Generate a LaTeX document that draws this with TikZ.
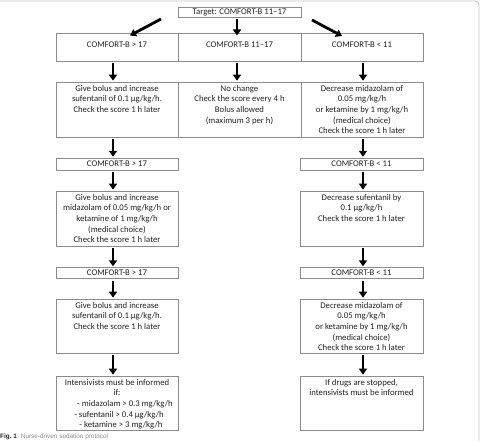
\documentclass[tikz,border=0pt]{standalone}
\usepackage{fontspec}
\setmainfont{Carlito}
\newfontfamily\capfont{Liberation Sans}
\usetikzlibrary{arrows.meta}
\definecolor{boxline}{HTML}{8C8C8C}
\definecolor{framegray}{HTML}{C4C4C4}
\definecolor{txt}{HTML}{222222}
\definecolor{capgray}{HTML}{8A8A8A}
\begin{document}
\begin{tikzpicture}[x=1pt,y=-1pt,
  box/.style={draw=boxline,line width=0.7pt,inner sep=0pt,text=txt,
    font=\fontsize{8.7}{10.6}\selectfont},
  lbl/.style={inner sep=0pt,align=center,text=txt,
    font=\fontsize{8.7}{10.6}\selectfont},
  arr/.style={line width=2.8pt,-{Triangle[width=8pt,length=6pt]},
    shorten <=2pt,shorten >=1pt}]
\useasboundingbox (0,0) rectangle (481,441);

% page frame
\draw[framegray,line width=0.9pt,rounded corners=4pt] (0,1) -- (479,1) -- (479,441);

% target
\node[box,minimum width=123pt,minimum height=10pt] (T) at (239.5,12) {Target: COMFORT-B 11--17};

% first row: score ranges
\node[box,minimum width=122pt,minimum height=28pt] (L1) at (117,47) {};
\node[box,minimum width=123pt,minimum height=28pt] (M1) at (239.5,47) {};
\node[box,minimum width=122pt,minimum height=28pt] (R1) at (362,47) {};
\node[lbl] (L1t) at (117,45) {COMFORT-B > 17};
\node[lbl] (M1t) at (239.5,45) {COMFORT-B 11--17};
\node[lbl] (R1t) at (362,45) {COMFORT-B < 11};

% second row: first actions
\node[box,minimum width=122pt,minimum height=55pt] (L2) at (117,109.5) {};
\node[box,minimum width=123pt,minimum height=55pt] (M2) at (239.5,109.5) {};
\node[box,minimum width=122pt,minimum height=55pt] (R2) at (362,109.5) {};
\node[lbl,anchor=north] (L2t) at ([yshift=-3.5pt]L2.north) {Give bolus and increase\\sufentanil of 0.1 µg/kg/h.\\Check the score 1 h later};
\node[lbl,anchor=north] (M2t) at ([yshift=-3.5pt]M2.north) {No change\\Check the score every 4 h\\Bolus allowed\\(maximum 3 per h)};
\node[lbl,anchor=north] (R2t) at ([yshift=-3.5pt]R2.north) {Decrease midazolam of\\0.05 mg/kg/h\\or ketamine by 1 mg/kg/h\\(medical choice)\\Check the score 1 h later};

% third row: rechecked scores
\node[box,minimum width=122pt,minimum height=11.7pt] (L3) at (117,164) {COMFORT-B > 17};
\node[box,minimum width=123pt,minimum height=11.7pt] (R3) at (361.5,164) {COMFORT-B < 11};

% fourth row
\node[box,minimum width=122pt,minimum height=55pt] (L4) at (117,218.5) {};
\node[box,minimum width=123pt,minimum height=55pt] (R4) at (361.5,218.5) {};
\node[lbl,anchor=north] (L4t) at ([yshift=-3.5pt]L4.north) {Give bolus and increase\\midazolam of 0.05 mg/kg/h or\\ketamine of 1 mg/kg/h\\(medical choice)\\Check the score 1 h later};
\node[lbl,anchor=north] (R4t) at ([yshift=-3.5pt]R4.north) {Decrease sufentanil by\\0.1 µg/kg/h\\Check the score 1 h later};

% fifth row
\node[box,minimum width=122pt,minimum height=10.6pt] (L5) at (117,273) {COMFORT-B > 17};
\node[box,minimum width=123pt,minimum height=10.6pt] (R5) at (361.5,273) {COMFORT-B < 11};

% sixth row
\node[box,minimum width=122pt,minimum height=54pt] (L6) at (117,326) {};
\node[box,minimum width=123pt,minimum height=54pt] (R6) at (361.5,326) {};
\node[lbl,anchor=north] (L6t) at ([yshift=-3.5pt]L6.north) {Give bolus and increase\\sufentanil of 0.1 µg/kg/h.\\Check the score 1 h later};
\node[lbl,anchor=north] (R6t) at ([yshift=-3.5pt]R6.north) {Decrease midazolam of\\0.05 mg/kg/h\\or ketamine by 1 mg/kg/h\\(medical choice)\\Check the score 1 h later};

% seventh row: escalation
\node[box,minimum width=122pt,minimum height=54pt] (L7) at (117,403) {};
\node[box,minimum width=123pt,minimum height=54pt] (R7) at (361.5,403) {};
\node[lbl,anchor=north] (L7t) at ([yshift=-3.5pt]L7.north) {Intensivists must be informed\\if:\\\hspace*{16pt}- midazolam > 0.3 mg/kg/h\\\hspace*{4pt}- sufentanil > 0.4 µg/kg/h\\\hspace*{8pt}- ketamine > 3 mg/kg/h};
\node[lbl,anchor=north] (R7t) at ([yshift=-3.5pt]R7.north) {If drugs are stopped,\\intensivists must be informed};

% arrows from the target
\coordinate (dl0) at (161,19);
\coordinate (dl1) at (130,35.5);
\coordinate (dr0) at (312,20);
\coordinate (dr1) at (342,36);
\coordinate (dm1) at (237,35.5);
\draw[arr,shorten <=0pt,shorten >=0pt] (dl0) -- (dl1);
\draw[arr,shorten <=0pt,shorten >=0pt] (dr0) -- (dr1);
\draw[arr,shorten >=0pt] ([xshift=-2.5pt]T.south) -- (dm1);

% arrows down the columns
\draw[arr] ([xshift=-4pt]L1.south) -- ([xshift=-4pt]L2.north);
\draw[arr] ([xshift=-2.5pt]M1.south) -- ([xshift=-2.5pt]M2.north);
\draw[arr] ([xshift=1pt]R1.south) -- ([xshift=1pt]R2.north);
\draw[arr] ([xshift=-4pt]L2.south) -- ([xshift=-4pt]L3.north);
\draw[arr] ([xshift=1pt]R2.south) -- ([xshift=1.5pt]R3.north);
\draw[arr] ([xshift=-4pt]L3.south) -- ([xshift=-4pt]L4.north);
\draw[arr] ([xshift=1.5pt]R3.south) -- ([xshift=1.5pt]R4.north);
\draw[arr] ([xshift=-4pt]L4.south) -- ([xshift=-4pt]L5.north);
\draw[arr] ([xshift=1.5pt]R4.south) -- ([xshift=1.5pt]R5.north);
\draw[arr] ([xshift=-4pt]L5.south) -- ([xshift=-4pt]L6.north);
\draw[arr] ([xshift=1.5pt]R5.south) -- ([xshift=1.5pt]R6.north);
\draw[arr] ([xshift=-4pt]L6.south) -- ([xshift=-4pt]L7.north);
\draw[arr] ([xshift=1.5pt]R6.south) -- ([xshift=1.5pt]R7.north);

% caption
\node[anchor=base west,inner sep=0pt,font=\capfont\fontsize{6.4}{7.5}\selectfont] (cap) at (0,438.5)
  {\textbf{\color{black!85}Fig.~1}\hspace{4pt}{\color{capgray}Nurse-driven sedation protocol}};
\end{tikzpicture}
\end{document}
